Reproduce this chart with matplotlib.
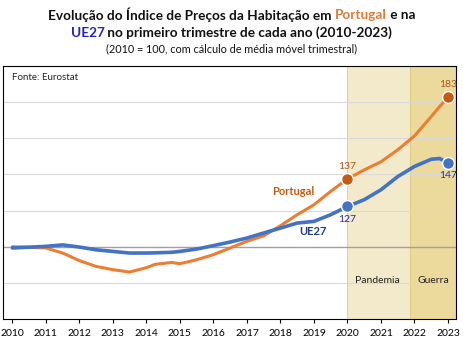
import matplotlib
matplotlib.use('Agg')
import matplotlib.pyplot as plt
import numpy as np

plt.rcParams['font.family'] = ['Lato', 'DejaVu Sans']

# dados (semestrais, 1o trimestre = ano inteiro)
anos = [2010, 2011, 2011.5, 2012, 2012.5, 2013, 2013.5, 2014, 2014.25, 2014.75, 2015,
        2015.5, 2016, 2016.5, 2017, 2017.5, 2018, 2018.5, 2019, 2019.5, 2020,
        2020.5, 2021, 2021.5, 2022, 2022.5, 2022.75, 2023]
portugal = [100, 99.3, 96.5, 92.3, 89.1, 87.3, 86.0, 88.4, 90.2, 91.3, 90.6,
            92.8, 95.6, 99.3, 103.0, 106.0, 111.6, 117.7, 123.2, 130.6, 137.5,
            142.5, 147.0, 153.6, 161.3, 172.0, 177.5, 182.7]
ue27 = [99.3, 100.2, 101.0, 99.8, 98.3, 97.4, 96.5, 96.5, 96.6, 96.9, 97.4,
        98.7, 100.6, 102.6, 104.8, 107.6, 110.3, 113.1, 114.0, 117.7, 122.3,
        126.0, 131.5, 138.8, 144.4, 148.4, 148.8, 146.5]
anos_ticks = list(range(2010, 2024))
marc_anos = [2020, 2023]
marc_pt = ['137', '183']
marc_ue = ['127', '147']

laranja = '#ED7D31'
laranja_esc = '#C55A11'
azul = '#4472C4'
azul_esc = '#1F3C88'

fig = plt.figure(figsize=(4.63, 3.42), dpi=100)
ax = fig.add_axes([3 / 463, 1 - 319 / 342, 453 / 463, 253 / 342])
ax.set_xlim(2009.72, 2023.24)
ax.set_ylim(60, 200)

ax.axvspan(2020, 2021.87, color='#F3EACB', zorder=0, lw=0)
ax.axvspan(2021.87, 2023.24, color='#ECDA9C', zorder=0, lw=0)
ax.axvline(2020, color='#E2D39A', lw=0.8, zorder=0.5)
ax.axvline(2021.87, color='#E2CD85', lw=0.8, zorder=0.5)

for g in [80, 120, 140, 160, 180]:
    ax.axhline(g, color='#D9D9D9', lw=0.8, zorder=1)
ax.axhline(100, color='#A0A0A0', lw=1.0, zorder=1)

ax.plot(anos, portugal, color=laranja, lw=2.2, zorder=3, solid_capstyle='round')
ax.plot(anos, ue27, color=azul, lw=2.6, zorder=3, solid_capstyle='round')

for a, lab in zip(marc_anos, marc_pt):
    v = portugal[anos.index(a)]
    ax.plot(a, v, 'o', color=laranja_esc, ms=8.5, mec='white', mew=1, zorder=4)
    ax.annotate(lab, (a, v), xytext=(0, 6), textcoords='offset points',
                ha='center', va='bottom', fontsize=7.5, color='#B0521A')
for a, lab in zip(marc_anos, marc_ue):
    v = ue27[anos.index(a)]
    ax.plot(a, v, 'o', color=azul, ms=8.5, mec='white', mew=1, zorder=4)
    ax.annotate(lab, (a, v), xytext=(0, -6), textcoords='offset points',
                ha='center', va='top', fontsize=7.5, color='#2A2AA8')

ax.text(2018.37, 130.4, 'Portugal', fontsize=8, fontweight='bold', color=laranja_esc,
        ha='center', va='center')
ax.text(2018.97, 108.5, 'UE27', fontsize=8, fontweight='bold', color=azul_esc,
        ha='center', va='center')
ax.text(2020.9, 81.5, 'Pandemia', fontsize=7.5, color='#222222', ha='center', va='center')
ax.text(2022.55, 81.5, 'Guerra', fontsize=7.5, color='#222222', ha='center', va='center')
ax.text(0.02, 0.955, 'Fonte: Eurostat', transform=ax.transAxes, fontsize=7,
        ha='left', va='center', color='#222222')

ax.set_xticks(anos_ticks)
ax.set_xticklabels([str(a) for a in anos_ticks], fontsize=7.5)
ax.tick_params(axis='x', length=3, width=0.8, pad=4, color='black')
ax.set_yticks([])
for s in ax.spines.values():
    s.set_color('black')
    s.set_linewidth(0.8)

# titulo com palavras coloridas
def linha_colorida(partes, y, size, weight):
    r = fig.canvas.get_renderer()
    txts = []
    for s, c in partes:
        t = fig.text(0, y, s, color=c, fontsize=size, fontweight=weight, va='center', ha='left')
        txts.append(t)
    larg = [t.get_window_extent(r).width for t in txts]
    total = sum(larg)
    x = (fig.bbox.width - total) / 2
    for t, w in zip(txts, larg):
        t.set_x(x / fig.bbox.width)
        x += w

linha_colorida([('Evolução do Índice de Preços da Habitação em ', '#111111'),
                ('Portugal', '#E07B39'), (' e na', '#111111')],
               1 - 15 / 342, 9.8, 'bold')
linha_colorida([('UE27', '#2323C8'),
                (' no primeiro trimestre de cada ano (2010-2023)', '#111111')],
               1 - 33 / 342, 9.8, 'bold')
fig.text(0.5, 1 - 49 / 342, '(2010 = 100, com cálculo de média móvel trimestral)',
         fontsize=7.8, ha='center', va='center', color='#111111')

fig.savefig('out.png', dpi=100)
